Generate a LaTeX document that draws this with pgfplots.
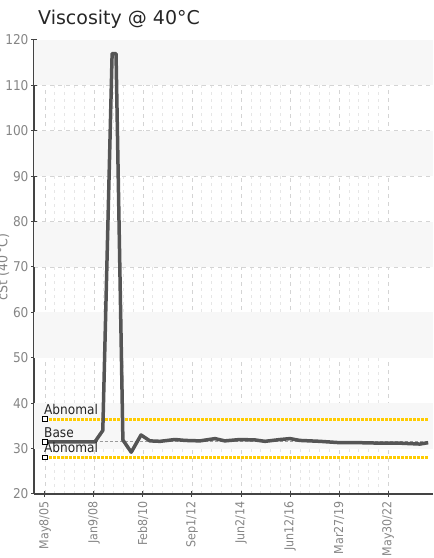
\documentclass[border=0pt]{standalone}
\usepackage{fontspec}
\setmainfont{DejaVu Sans}
\newfontfamily\condfont{DejaVu Sans Condensed}
\usepackage{pgfplots}
\pgfplotsset{compat=1.18}

\definecolor{lineg}{HTML}{555555}
\definecolor{axisc}{HTML}{444444}
\definecolor{tickc}{HTML}{858585}
\definecolor{gridc}{HTML}{D4D4D4}
\definecolor{gridm}{HTML}{E6E6E6}
\definecolor{bandc}{HTML}{F7F7F7}
\definecolor{limitc}{HTML}{FFCC00}
\definecolor{basec}{HTML}{9A9A9A}

% viscosity readings, x = position along the sample axis (tick index)
\pgfplotstableread{
x     y
0.00  31.5
1.02  31.5
1.18  34.0
1.37  117.0
1.45  117.0
1.59  31.9
1.76  29.2
1.96  33.0
2.14  31.7
2.35  31.6
2.65  32.0
2.86  31.8
3.16  31.7
3.47  32.2
3.67  31.7
3.98  32.0
4.29  31.9
4.49  31.6
4.80  32.0
5.00  32.2
5.20  31.8
5.61  31.6
6.02  31.3
6.43  31.3
6.84  31.2
7.24  31.2
7.65  31.0
7.82  31.3
}\visc

\begin{document}
\begin{tikzpicture}
\begin{axis}[
    set layers,
    scale only axis,
    width=399pt, height=454pt,
    xmin=-0.224, xmax=7.918,
    ymin=20, ymax=120,
    ytick={20,30,...,120},
    xtick={0,...,7},
    xticklabels={May8/05,Jan9/08,Feb8/10,Sep1/12,Jun2/14,Jun12/16,Mar27/19,May30/22},
    minor x tick num=4,
    axis x line*=bottom,
    axis y line*=left,
    axis line style={draw=axisc, line width=1.5pt},
    tick align=center,
    major tick length=6pt,
    minor tick length=0pt,
    tick style={draw=axisc, line width=1pt},
    xmajorgrids, ymajorgrids, xminorgrids,
    major grid style={dash pattern=on 4pt off 4pt, draw=gridc, line width=0.8pt},
    minor grid style={dash pattern=on 3pt off 4pt, draw=gridm, line width=0.6pt},
    yticklabel style={font=\condfont\fontsize{13.5}{13.5}\selectfont, text=tickc, xshift=1pt},
    xticklabel style={font=\condfont\fontsize{12.3}{12.3}\selectfont, text=tickc,
                      rotate=90, anchor=east, xshift=-1pt},
    /pgf/number format/assume math mode=true,
    ylabel={cSt (40\,°C)},
    ylabel style={at={(rel axis cs:0,0.5)}, anchor=center, yshift=31pt,
                  font=\condfont\fontsize{14}{14}\selectfont, text=tickc},
]
% alternating background bands
\fill[on layer=axis background, bandc] (axis cs:-0.224,30) rectangle (axis cs:7.918,40);
\fill[on layer=axis background, bandc] (axis cs:-0.224,50) rectangle (axis cs:7.918,60);
\fill[on layer=axis background, bandc] (axis cs:-0.224,70) rectangle (axis cs:7.918,80);
\fill[on layer=axis background, bandc] (axis cs:-0.224,90) rectangle (axis cs:7.918,100);
\fill[on layer=axis background, bandc] (axis cs:-0.224,110) rectangle (axis cs:7.918,120);

% limit lines
\addplot[limitc, line width=3pt, dash pattern=on 3pt off 1pt] coordinates {(0,36.5) (7.82,36.5)};
\addplot[limitc, line width=3pt, dash pattern=on 3pt off 1pt] coordinates {(0,28.1) (7.82,28.1)};
\addplot[basec, line width=1pt, dash pattern=on 3pt off 2pt] coordinates {(0,31.5) (7.82,31.5)};

% measured viscosity
\addplot[lineg, line width=3.5pt, line join=round] table[x=x, y=y] {\visc};

% start markers with their labels
\addplot[only marks, mark=square*, mark size=2.3pt,
         mark options={fill=white, draw=black, line width=0.7pt}]
    coordinates {(0,36.5) (0,31.5) (0,28.1)};
\node[anchor=base west, inner sep=0pt, xshift=-1pt, yshift=5pt,
      font=\condfont\fontsize{13.5}{13.5}\selectfont, text=black!85] at (axis cs:0,36.5) {Abnomal};
\node[anchor=base west, inner sep=0pt, xshift=-1pt, yshift=4pt,
      font=\condfont\fontsize{13.5}{13.5}\selectfont, text=black!85] at (axis cs:0,31.5) {Base};
\node[anchor=base west, inner sep=0pt, xshift=-1pt, yshift=5pt,
      font=\condfont\fontsize{13.5}{13.5}\selectfont, text=black!85] at (axis cs:0,28.1) {Abnomal};

\coordinate (sw) at (rel axis cs:0,0);
\coordinate (ne) at (rel axis cs:1,1);
\coordinate (nw) at (rel axis cs:0,1);
\end{axis}
\node[anchor=base west, inner sep=0pt, font=\fontsize{19}{19}\selectfont, text=black!85]
    at ([shift={(4pt,15pt)}]nw) {Viscosity @ 40°C};
\pgfresetboundingbox
\path[use as bounding box] ([shift={(-34pt,-64pt)}]sw) rectangle ([shift={(0pt,40pt)}]ne);
\end{tikzpicture}
\end{document}
